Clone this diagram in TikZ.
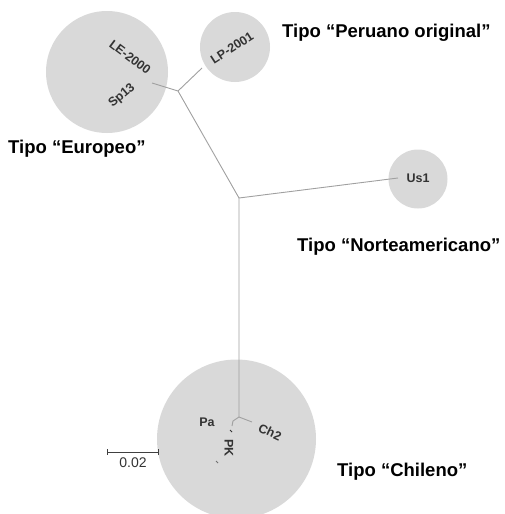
\documentclass[tikz,border=0pt]{standalone}
\usepackage{fontspec}
\setmainfont{Liberation Sans}
\definecolor{blob}{HTML}{D9D9D9}
\definecolor{branch}{HTML}{A0A0A0}
\definecolor{leaf}{HTML}{333333}
\tikzset{
  group/.style={circle, fill=blob, draw=none, inner sep=0pt},
  leafname/.style={font=\fontsize{12.5}{12.5}\selectfont\bfseries, text=leaf, inner sep=0pt},
  typename/.style={font=\fontsize{18.5}{18.5}\selectfont\bfseries, text=black, inner sep=0pt, anchor=base west},
  edge/.style={draw=branch, line width=0.9pt},
  scalebar/.style={draw=black!75, line width=0.9pt},
}
\begin{document}
\begin{tikzpicture}[x=1pt, y=-1pt]
\useasboundingbox (0,0) rectangle (504,514);

% clade discs
\node[group, minimum size=122pt] (eu) at (107,72) {};
\node[group, minimum size=70pt] (pe) at (235,47) {};
\node[group, minimum size=59pt] (na) at (418,179) {};
\node[group, minimum size=159pt] (cl) at (236.5,439) {};

% tree skeleton
\coordinate (jA) at (178,91);
\coordinate (sp) at (152,83);
\coordinate (lp) at (202,68);
\coordinate (jB) at (239,198);
\coordinate (us) at (398,178);
\coordinate (jC) at (239,417);
\coordinate (ch) at (252,422);
\coordinate (pa) at (233,421);
\coordinate (pk) at (232,426);
\coordinate (m1a) at (230,430);
\coordinate (m1b) at (232,432);
\coordinate (m2a) at (216,461);
\coordinate (m2b) at (218,463);

\draw[edge] (sp) -- (jA) -- (lp);
\draw[edge] (jA) -- (jB) -- (us);
\draw[edge] (jB) -- (jC) -- (ch);
\draw[edge] (jC) -- (pa) -- (pk);
\draw[edge, draw=leaf] (m1a) -- (m1b);
\draw[edge, draw=leaf!70] (m2a) -- (m2b);

% leaf labels
\node[leafname, rotate=-37] (le2000) at (130,57) {LE-2000};
\node[leafname, rotate=40] (sp13) at (122,96) {Sp13};
\node[leafname, rotate=33] (lp2001) at (232,48) {LP-2001};
\node[leafname] (us1) at (418,178) {Us1};
\node[leafname] (pal) at (207,422) {Pa};
\node[leafname, rotate=-25] (ch2) at (270,432) {Ch2};
\node[leafname, rotate=-90] (pkl) at (229,448) {PK};

% clade titles
\node[typename] (tpe) at (282,37) {Tipo “Peruano original”};
\node[typename] (teu) at (8,153) {Tipo “Europeo”};
\node[typename] (tna) at (297,251) {Tipo “Norteamericano”};
\node[typename] (tcl) at (337,476) {Tipo “Chileno”};

% scale bar
\coordinate (sbL) at (107,452);
\coordinate (sbR) at (158,452);
\draw[scalebar] (sbL) -- (sbR);
\draw[scalebar] ([yshift=3pt]sbL) -- ([yshift=-3pt]sbL);
\draw[scalebar] ([yshift=3pt]sbR) -- ([yshift=-3pt]sbR);
\node[font=\fontsize{14}{14}\selectfont, text=black!80, inner sep=0pt] (sblab) at (133,463) {0.02};
\end{tikzpicture}
\end{document}
